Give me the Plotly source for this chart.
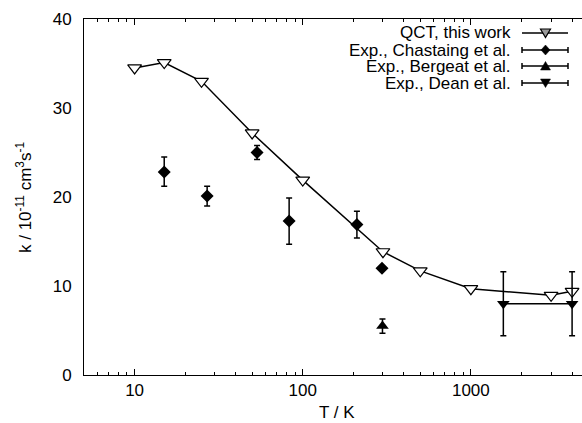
import numpy as np
import plotly.graph_objects as go

# QCT, this work
qct_T = [10, 15, 25, 50, 100, 300, 500, 1000, 3000, 4000]
qct_k = [34.5, 35.1, 33.0, 27.2, 21.9, 13.85, 11.7, 9.7, 8.95, 9.4]

# Exp., Chastaing et al.
ch_T = [15, 27, 53.5, 83, 210, 296]
ch_k = [22.8, 20.1, 25.0, 17.3, 16.9, 12.0]
ch_up = [1.7, 1.1, 0.8, 2.6, 1.5, 0.0]
ch_dn = [1.6, 1.1, 0.8, 2.6, 1.5, 0.0]

# Exp., Bergeat et al.
be_T = [298]
be_k = [5.5]
be_err = [0.8]

# Exp., Dean et al.
de_T = [1560, 4000]
de_k = [8.0, 8.0]
de_err = [3.6, 3.6]

FONT = "Liberation Sans, Arial, Helvetica, sans-serif"
FS = 17
W, H = 582, 423
L, R, T, B = 84, 0, 19, 48

fig = go.Figure()
fig.add_trace(go.Scatter(x=qct_T, y=qct_k, mode="lines+markers",
                         line=dict(color="black", width=1.5),
                         marker=dict(symbol="triangle-down", size=12, color="white",
                                     line=dict(color="black", width=1.2)),
                         showlegend=False))
fig.add_trace(go.Scatter(x=ch_T, y=ch_k, mode="markers",
                         marker=dict(symbol="diamond", size=10, color="black"),
                         error_y=dict(type="data", array=ch_up, arrayminus=ch_dn,
                                      color="black", thickness=1.5, width=3),
                         showlegend=False))
fig.add_trace(go.Scatter(x=be_T, y=be_k, mode="markers",
                         marker=dict(symbol="triangle-up", size=11, color="black"),
                         error_y=dict(type="data", array=be_err, color="black",
                                      thickness=1.5, width=3),
                         showlegend=False))
fig.add_trace(go.Scatter(x=de_T, y=de_k, mode="lines+markers",
                         line=dict(color="black", width=1.5),
                         marker=dict(symbol="triangle-down", size=11, color="black"),
                         error_y=dict(type="data", array=de_err, color="black",
                                      thickness=1.5, width=3),
                         showlegend=False))

# legend drawn manually (symbols to the right of the text)
pw = W - L - R
ph = H - T - B
def px(x):
    return (x - L) / pw
def py(y):
    return (H - B - y) / ph

leg_names = ["QCT, this work", "Exp., Chastaing et al.", "Exp., Bergeat et al.", "Exp., Dean et al."]
leg_y = [33, 50, 66, 83]
shapes = []
annotations = []
x0, x1, xm = 522, 568, 545.5
for i, (name, yy) in enumerate(zip(leg_names, leg_y)):
    annotations.append(dict(x=px(512), y=py(yy), xref="paper", yref="paper",
                            text=name, showarrow=False, xanchor="right", yanchor="middle",
                            borderpad=0,
                            font=dict(family=FONT, size=FS, color="black")))
    shapes.append(dict(type="line", xref="paper", yref="paper",
                       x0=px(x0), x1=px(x1), y0=py(yy), y1=py(yy),
                       line=dict(color="black", width=1.5)))
    if i > 0:
        for xe in (x0, x1):
            shapes.append(dict(type="line", xref="paper", yref="paper",
                               x0=px(xe), x1=px(xe), y0=py(yy - 3), y1=py(yy + 3),
                               line=dict(color="black", width=1.5)))
    if i == 0:
        path = f"M {px(xm-5)} {py(yy-4)} L {px(xm+5)} {py(yy-4)} L {px(xm)} {py(yy+4.5)} Z"
        shapes.append(dict(type="path", xref="paper", yref="paper", path=path,
                           fillcolor="#999999", line=dict(color="black", width=1.2)))
    elif i == 1:
        path = f"M {px(xm)} {py(yy-5)} L {px(xm+4.5)} {py(yy)} L {px(xm)} {py(yy+5)} L {px(xm-4.5)} {py(yy)} Z"
        shapes.append(dict(type="path", xref="paper", yref="paper", path=path,
                           fillcolor="black", line=dict(color="black", width=0.5)))
    elif i == 2:
        path = f"M {px(xm-5)} {py(yy+4)} L {px(xm+5)} {py(yy+4)} L {px(xm)} {py(yy-4.5)} Z"
        shapes.append(dict(type="path", xref="paper", yref="paper", path=path,
                           fillcolor="black", line=dict(color="black", width=0.5)))
    else:
        path = f"M {px(xm-5)} {py(yy-4)} L {px(xm+5)} {py(yy-4)} L {px(xm)} {py(yy+4.5)} Z"
        shapes.append(dict(type="path", xref="paper", yref="paper", path=path,
                           fillcolor="black", line=dict(color="black", width=0.5)))

# axis titles as annotations placed in pixel space
annotations.append(dict(x=px(337), y=py(412), xref="paper", yref="paper",
                        text="T / K", showarrow=False, xanchor="center", yanchor="middle",
                        borderpad=0,
                        font=dict(family=FONT, size=FS, color="black")))
annotations.append(dict(x=px(24), y=py(198), xref="paper", yref="paper",
                        text="k / 10<sup>-11</sup> cm<sup>3</sup>s<sup>-1</sup>",
                        textangle=-90, showarrow=False, xanchor="center", yanchor="middle",
                        borderpad=0,
                        font=dict(family=FONT, size=FS, color="black")))

minor_vals = [5, 6, 7, 8, 9, 20, 30, 40, 50, 60, 70, 80, 90,
              200, 300, 400, 500, 600, 700, 800, 900, 2000, 3000, 4000]

fig.update_layout(
    width=W, height=H,
    margin=dict(l=L, r=R, t=T, b=B, pad=0),
    paper_bgcolor="white", plot_bgcolor="white",
    font=dict(family=FONT, size=FS, color="black"),
    shapes=shapes, annotations=annotations,
    xaxis=dict(type="log", range=[np.log10(5), 3.661], automargin=False,
               tickvals=[10, 100, 1000], ticktext=["10", "100", "1000"],
               ticks="inside", ticklen=6, tickwidth=1, tickcolor="black",
               minor=dict(tickvals=minor_vals, ticks="inside", ticklen=3,
                          tickcolor="black", tickwidth=1, showgrid=False),
               showline=True, linecolor="black", linewidth=1, mirror="ticks",
               showgrid=False, zeroline=False,
               tickfont=dict(size=FS)),
    yaxis=dict(range=[0, 40], tickvals=[0, 10, 20, 30, 40], automargin=False,
               ticks="", showline=True, linecolor="black", linewidth=1, mirror=False,
               showgrid=False, zeroline=False, ticklabelstandoff=8,
               tickfont=dict(size=FS)),
)

fig.write_html("out.html")
